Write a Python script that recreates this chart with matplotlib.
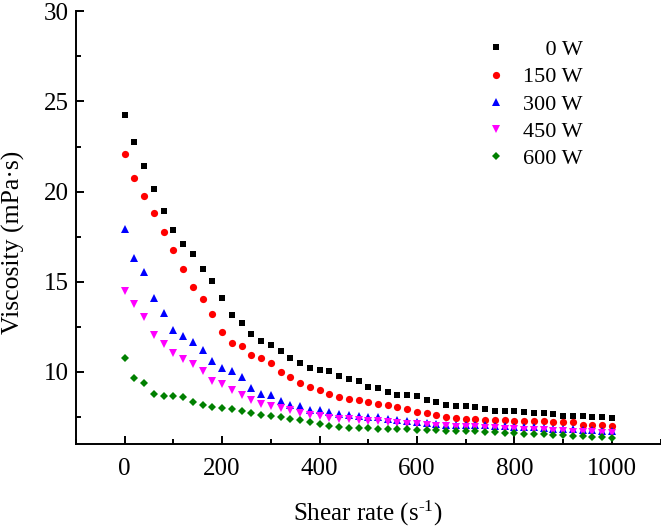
import numpy as np
import matplotlib
matplotlib.use("Agg")
import matplotlib.pyplot as plt
from matplotlib.ticker import MultipleLocator

shear_rate = list(range(0, 1001, 20))

visc_0W = [24.25, 22.73, 21.40, 20.13, 18.91, 17.89, 17.11, 16.56, 15.71, 15.04,
           14.08, 13.17, 12.73, 12.09, 11.70, 11.51, 11.16, 10.75, 10.49, 10.20,
           10.12, 10.05, 9.79, 9.61, 9.48, 9.16, 9.09, 8.87, 8.72, 8.70,
           8.65, 8.46, 8.35, 8.16, 8.11, 8.11, 8.04, 7.93, 7.83, 7.83,
           7.81, 7.76, 7.70, 7.70, 7.65, 7.57, 7.57, 7.54, 7.50, 7.48, 7.46]
visc_150W = [22.10, 20.77, 19.74, 18.80, 17.76, 16.74, 15.69, 14.73, 14.03, 13.21,
             12.21, 11.62, 11.45, 10.94, 10.75, 10.49, 9.99, 9.72, 9.38, 9.18,
             8.98, 8.79, 8.61, 8.50, 8.44, 8.31, 8.24, 8.15, 8.04, 7.95,
             7.76, 7.74, 7.63, 7.52, 7.44, 7.40, 7.37, 7.35, 7.35, 7.32,
             7.29, 7.29, 7.29, 7.26, 7.22, 7.21, 7.21, 7.06, 7.06, 7.06, 7.00]
visc_300W = [17.93, 16.33, 15.56, 14.08, 13.25, 12.32, 11.99, 11.64, 11.20, 10.62,
             10.24, 10.05, 9.70, 9.11, 8.76, 8.70, 8.40, 8.15, 8.09, 7.89,
             7.87, 7.75, 7.68, 7.61, 7.55, 7.52, 7.48, 7.40, 7.33, 7.26,
             7.22, 7.18, 7.11, 7.07, 7.07, 7.05, 7.03, 7.04, 7.02, 7.00,
             6.96, 6.96, 6.93, 6.90, 6.85, 6.83, 6.83, 6.78, 6.76, 6.74, 6.71]
visc_450W = [14.49, 13.77, 13.03, 12.05, 11.53, 11.03, 10.70, 10.45, 10.05, 9.51,
             9.31, 9.01, 8.72, 8.44, 8.22, 8.09, 7.98, 7.87, 7.72, 7.61,
             7.54, 7.46, 7.40, 7.36, 7.32, 7.30, 7.26, 7.21, 7.16, 7.12,
             7.09, 7.06, 7.02, 6.99, 6.97, 6.95, 6.92, 6.89, 6.87, 6.85,
             6.82, 6.80, 6.78, 6.76, 6.73, 6.71, 6.69, 6.67, 6.65, 6.63, 6.60]
visc_600W = [10.75, 9.64, 9.37, 8.76, 8.66, 8.66, 8.62, 8.31, 8.15, 8.07,
             7.98, 7.96, 7.85, 7.70, 7.63, 7.57, 7.52, 7.40, 7.33, 7.20,
             7.10, 6.98, 6.96, 6.90, 6.89, 6.87, 6.85, 6.85, 6.83, 6.81,
             6.78, 6.78, 6.76, 6.74, 6.72, 6.71, 6.72, 6.68, 6.65, 6.63,
             6.61, 6.57, 6.56, 6.54, 6.50, 6.48, 6.45, 6.45, 6.41, 6.39, 6.32]

labels = ["    0 W", "150 W", "300 W", "450 W", "600 W"]
series = [visc_0W, visc_150W, visc_300W, visc_450W, visc_600W]
colors = ["#000000", "#ff0000", "#0000ff", "#ff00ff", "#008000"]
markers = ["s", "o", "^", "v", "D"]
msizes = [4.8, 5.2, 5.2, 5.2, 4.4]

plt.rcParams['font.family'] = ['Liberation Serif', 'DejaVu Serif']
plt.rcParams['mathtext.fontset'] = 'custom'
plt.rcParams['mathtext.rm'] = 'Liberation Serif'
plt.rcParams['mathtext.it'] = 'Liberation Serif:italic'

fig = plt.figure(figsize=(6.61, 5.28), dpi=100)
ax = fig.add_axes([76/661, 1 - 444/528, 1 - 76/661 - 0.5/661, (444 - 11.3)/528])

for y, c, m, ms, lab in zip(series, colors, markers, msizes, labels):
    ax.plot(shear_rate, y, linestyle='none', marker=m, color=c, markersize=ms,
            markeredgewidth=0, label=lab)

ax.set_xlim(-100, 1100)
ax.set_ylim(6, 30)
ax.set_xticks(range(0, 1001, 200))
ax.xaxis.set_minor_locator(MultipleLocator(100))
ax.set_yticks([10, 15, 20, 25, 30])
ax.yaxis.set_minor_locator(MultipleLocator(2.5))

for side in ['top', 'right']:
    ax.spines[side].set_visible(False)
for side in ['left', 'bottom']:
    ax.spines[side].set_linewidth(1.4)

ax.tick_params(which='major', direction='in', length=6, width=1.4, labelsize=18)
ax.tick_params(which='minor', direction='in', length=3.5, width=1.4)
ax.tick_params(axis='x', which='major', pad=10)
ax.tick_params(axis='y', which='major', pad=5)

ax.set_xlabel("Shear rate (s$^{\\text{-1}}$)", fontsize=18, labelpad=14)
ax.set_ylabel("Viscosity (mPa·s)", fontsize=18.5)
ax.yaxis.set_label_coords(-0.087, 0.467)

leg = ax.legend(loc='upper left', bbox_to_anchor=(0.685, 0.955), frameon=False,
                fontsize=16, handlelength=1.0, handletextpad=0.72,
                labelspacing=0.3, borderaxespad=0.0, numpoints=1)

fig.savefig("out.png", dpi=100)
